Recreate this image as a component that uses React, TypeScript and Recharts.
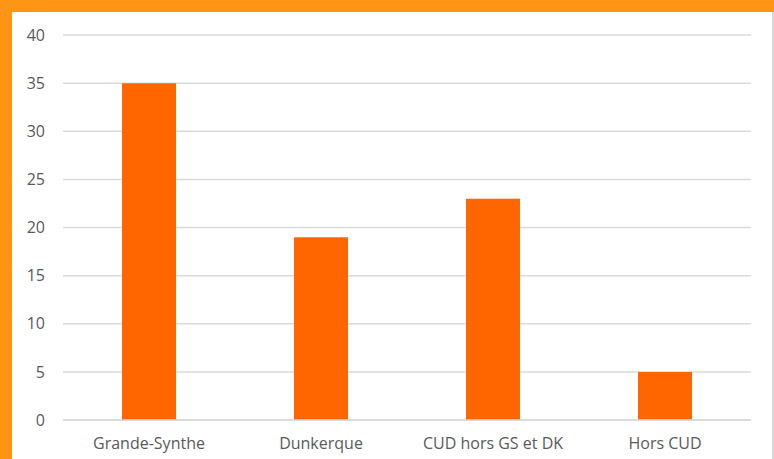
import { BarChart, Bar, XAxis, YAxis, CartesianGrid } from 'recharts';

// ─── Data ───────────────────────────────────────────────────────────────────
const categories = ['Grande-Synthe', 'Dunkerque', 'CUD hors GS et DK', 'Hors CUD'];
const values = [35, 19, 23, 5];
const yTicks = [0, 5, 10, 15, 20, 25, 30, 35, 40];

const data = categories.map((name, i) => ({ name, value: values[i] }));

const tickStyle = { fill: '#595959', fontSize: 16, fontFamily: '"Open Sans", sans-serif' };

export default function App() {
  return (
    <div style={{ position: 'fixed', left: 0, top: 0, width: 774, height: 459, background: '#ff9514', overflow: 'hidden' }}>
      <div
        style={{
          position: 'absolute',
          left: 12,
          top: 12,
          width: 760,
          height: 447,
          background: '#fff',
          borderRight: '2px solid #d9d9d9',
        }}
      />
      <div style={{ position: 'absolute', left: 0, top: 0 }}>
        <BarChart width={774} height={459} data={data} margin={{ top: 35, right: 23, left: 0, bottom: 0 }}>
          <CartesianGrid vertical={false} stroke="#d9d9d9" strokeWidth={1.5} />
          <XAxis
            dataKey="name"
            height={39}
            axisLine={{ stroke: '#d9d9d9', strokeWidth: 1.5 }}
            tickLine={false}
            tickSize={0}
            tickMargin={18}
            tick={tickStyle}
          />
          <YAxis
            width={63}
            domain={[0, 40]}
            ticks={yTicks}
            axisLine={false}
            tickLine={false}
            tickSize={0}
            tickMargin={18}
            tick={tickStyle}
          />
          <Bar dataKey="value" fill="#ff6600" barSize={54} isAnimationActive={false} />
        </BarChart>
      </div>
    </div>
  );
}
